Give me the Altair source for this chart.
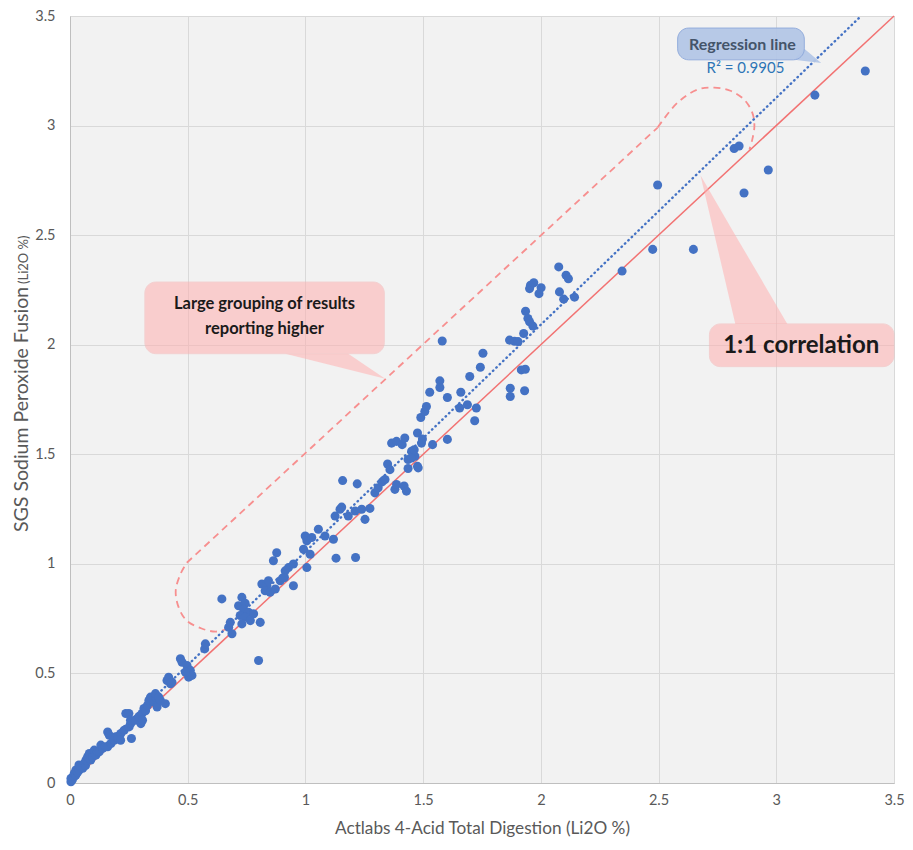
import altair as alt
import pandas as pd

FONT = "Lato"

# ---------------- data ----------------
actlabs = [
    0.004, 0.004, 0.010, 0.018, 0.018, 0.025, 0.025, 0.033, 0.039, 0.047, 0.054, 0.038, 0.061, 0.066,
    0.068, 0.075, 0.082, 0.088, 0.096, 0.103, 0.110, 0.116, 0.124, 0.131, 0.139, 0.150, 0.160, 0.160,
    0.167, 0.174, 0.188, 0.194, 0.202, 0.216, 0.215, 0.230, 0.237, 0.251, 0.258, 0.261, 0.250, 0.257,
    0.278, 0.292,
    0.301, 0.306, 0.308, 0.314, 0.321, 0.329, 0.335, 0.343, 0.342, 0.356, 0.364, 0.363, 0.370, 0.377,
    0.384, 0.405, 0.412, 0.419, 0.427, 0.433, 0.469, 0.476, 0.497, 0.504, 0.511, 0.518, 0.490, 0.572,
    0.575,
    0.645, 0.674, 0.688, 0.681, 0.716, 0.730, 0.744, 0.737, 0.758, 0.723, 0.744, 0.780, 0.766, 0.730,
    0.808, 0.801, 0.815, 0.836, 0.843, 0.829, 0.850, 0.872, 0.893, 0.911, 0.878, 0.864, 0.928, 0.949,
    0.914, 0.907, 0.949, 0.992, 0.999, 1.006, 1.020, 1.006,
    1.027, 1.055, 1.083, 1.119, 1.126, 1.147, 1.154, 1.182, 1.211, 1.239, 1.253, 1.274, 1.130, 1.213,
    1.158, 1.220, 1.295, 1.309, 1.326, 1.338, 1.349, 1.359, 1.366, 1.387, 1.380, 1.387, 1.419, 1.429,
    1.411, 1.422, 1.436, 1.451, 1.465, 1.450, 1.476, 1.436, 1.462, 1.476, 1.493, 1.479,
    1.490, 1.507, 1.514, 1.497, 1.540, 1.603, 1.528, 1.571, 1.571, 1.603, 1.581, 1.655, 1.660, 1.688,
    1.698, 1.719, 1.726, 1.743, 1.754, 1.867, 1.888, 1.903, 1.870, 1.870, 1.931, 1.917, 1.934, 1.927,
    1.935, 1.945, 1.952, 1.966, 1.952, 1.956, 1.970, 2.001, 1.992, 2.076, 2.107, 2.117, 2.079, 2.097,
    2.143,
    2.345, 2.475, 2.496, 2.648, 2.821, 2.842, 2.863, 2.966, 3.164, 3.378,
]
sgs = [
    0.006, 0.021, 0.015, 0.030, 0.044, 0.036, 0.059, 0.050, 0.059, 0.074, 0.067, 0.082, 0.090, 0.080,
    0.105, 0.120, 0.135, 0.105, 0.120, 0.150, 0.127, 0.142, 0.142, 0.173, 0.158, 0.165, 0.165, 0.233,
    0.218, 0.180, 0.195, 0.211, 0.211, 0.226, 0.195, 0.241, 0.317, 0.256, 0.271, 0.203, 0.317, 0.286,
    0.286, 0.302,
    0.271, 0.317, 0.286, 0.340, 0.330, 0.355, 0.377, 0.385, 0.392, 0.370, 0.392, 0.408, 0.347, 0.392,
    0.377, 0.362, 0.468, 0.483, 0.453, 0.460, 0.567, 0.551, 0.536, 0.483, 0.514, 0.491, 0.506, 0.612,
    0.635,
    0.840, 0.711, 0.681, 0.733, 0.809, 0.847, 0.820, 0.794, 0.779, 0.764, 0.756, 0.772, 0.741, 0.726,
    0.733, 0.559, 0.908, 0.900, 0.923, 0.877, 0.870, 0.885, 0.923, 0.938, 1.051, 1.014, 0.983, 0.999,
    0.968, 0.938, 0.900, 1.067, 1.127, 1.105, 1.044, 0.983,
    1.120, 1.158, 1.127, 1.112, 1.218, 1.249, 1.259, 1.218, 1.241, 1.249, 1.203, 1.253, 1.026, 1.029,
    1.380, 1.365, 1.324, 1.347, 1.374, 1.385, 1.456, 1.430, 1.551, 1.559, 1.340, 1.362, 1.355, 1.332,
    1.544, 1.574, 1.476, 1.514, 1.491, 1.483, 1.445, 1.435, 1.521, 1.597, 1.551, 1.438,
    1.668, 1.695, 1.718, 1.570, 1.544, 1.568, 1.783, 1.835, 1.805, 1.759, 2.017, 1.711, 1.783, 1.726,
    1.855, 1.653, 1.711, 1.897, 1.961, 2.021, 2.016, 2.014, 1.801, 1.764, 1.790, 1.885, 1.888, 2.051,
    2.153, 2.120, 2.105, 2.085, 2.256, 2.271, 2.283, 2.260, 2.233, 2.355, 2.317, 2.301, 2.241, 2.208,
    2.217,
    2.336, 2.435, 2.729, 2.435, 2.895, 2.907, 2.692, 2.797, 3.139, 3.249,
]

tick_values = [0, 0.5, 1, 1.5, 2, 2.5, 3, 3.5]

one_to_one_x = [0.0, 3.5]
one_to_one_y = [0.0, 3.5]

reg_x = [0.0, 3.36]
reg_y = [0.02, 3.5]

# dashed outline around the "higher" group (3 pieces: lower arc, straight edge, upper arc)
outline_seg = ["a"] * 8 + ["b"] * 2 + ["c"] * 10
outline_x = [0.674, 0.619, 0.559, 0.496, 0.462, 0.449, 0.470, 0.496,
             0.496, 2.496,
             2.496, 2.581, 2.665, 2.737, 2.805, 2.864, 2.898, 2.907, 2.898, 2.886]
outline_y = [0.705, 0.691, 0.705, 0.741, 0.800, 0.877, 0.955, 1.005,
             1.005, 2.991,
             2.991, 3.105, 3.164, 3.173, 3.159, 3.118, 3.059, 3.000, 2.936, 2.891]

# callout boxes
box_x = [0.318, 2.716, 2.581]
box_x2 = [1.335, 3.500, 3.119]
box_y = [1.959, 1.900, 3.300]
box_y2 = [2.286, 2.095, 3.445]
box_fill = ["#ffb0b0", "#ffb0b0", "#b4c7e7"]
box_stroke = ["#f5b5b5", "#f5b5b5", "#8faadc"]
box_opacity = [0.55, 0.55, 0.95]

# callout pointers (triangles as areas)
tail_id = ["g"] * 3 + ["c"] * 3 + ["r"] * 3
tail_x = [0.915, 1.182, 1.339, 2.678, 2.826, 3.047, 3.076, 3.119, 3.191]
tail_lo = [1.959, 1.887, 1.845, 2.773, 2.095, 2.095, 3.300, 3.295, 3.286]
tail_hi = [1.959, 1.959, 1.845, 2.773, 2.500, 2.095, 3.300, 3.350, 3.286]
tail_fill = ["#ffb0b0"] * 6 + ["#b4c7e7"] * 3
tail_opacity = [0.55] * 6 + [0.95] * 3

# callout texts
label_text = ["Large grouping of results", "reporting higher", "1:1 correlation", "Regression line"]
label_x = [0.826, 0.826, 3.106, 2.856]
label_y = [2.186, 2.073, 1.995, 3.368]
label_size = [16.5, 16.5, 24, 16]
label_color = ["#1a1a1a", "#1a1a1a", "#1a1a1a", "#44546a"]

r2_text = ["R² = 0.9905"]
r2_x = [2.869]
r2_y = [3.264]

# ---------------- chart ----------------
xs = alt.Scale(domain=[0, 3.5], nice=False, zero=False)
ys = alt.Scale(domain=[0, 3.5], nice=False, zero=False)

x_axis = alt.Axis(values=tick_values, format="~g", title="Actlabs 4-Acid Total Digestion (Li2O %)",
                  grid=True, gridColor="#d9d9d9", gridWidth=1, ticks=False,
                  domainColor="#bfbfbf", domainWidth=1, labelFlush=False,
                  labelFont=FONT, labelFontSize=14.5, labelColor="#595959", labelPadding=10,
                  titleFont=FONT, titleFontSize=17.2, titleFontWeight="normal", titleColor="#595959",
                  titlePadding=13)
y_axis = alt.Axis(values=tick_values, format="~g", title=None,
                  grid=True, gridColor="#d9d9d9", gridWidth=1, ticks=False,
                  domainColor="#bfbfbf", domainWidth=1, labelFlush=False,
                  labelFont=FONT, labelFontSize=14.5, labelColor="#595959", labelPadding=15)


def X(field):
    return alt.X(field, type="quantitative", scale=xs, axis=x_axis)


def Y(field):
    return alt.Y(field, type="quantitative", scale=ys, axis=y_axis)


pts = pd.DataFrame({"x": actlabs, "y": sgs})
diag = pd.DataFrame({"x": one_to_one_x, "y": one_to_one_y})
reg = pd.DataFrame({"x": reg_x, "y": reg_y})
outline = pd.DataFrame({"seg": outline_seg, "x": outline_x, "y": outline_y,
                        "i": list(range(len(outline_x)))})
boxes = pd.DataFrame({"x": box_x, "x2": box_x2, "y": box_y, "y2": box_y2,
                      "fill": box_fill, "stroke": box_stroke, "op": box_opacity})
tails = pd.DataFrame({"id": tail_id, "x": tail_x, "lo": tail_lo, "hi": tail_hi,
                      "fill": tail_fill, "op": tail_opacity})
labels = pd.DataFrame({"t": label_text, "x": label_x, "y": label_y,
                       "s": label_size, "c": label_color})
r2 = pd.DataFrame({"t": r2_text, "x": r2_x, "y": r2_y})

outline_layer = alt.Chart(outline).mark_line(
    color="#f78f8f", strokeWidth=1.8, strokeDash=[7, 5], interpolate="catmull-rom"
).encode(x=X("x"), y=Y("y"), detail="seg:N", order="i:Q")

diag_layer = alt.Chart(diag).mark_line(color="#f27272", strokeWidth=1.5).encode(x=X("x"), y=Y("y"))

reg_layer = alt.Chart(reg).mark_line(
    color="#4472c4", strokeWidth=2.4, strokeDash=[0.5, 4.2], strokeCap="round"
).encode(x=X("x"), y=Y("y"))

pts_layer = alt.Chart(pts).mark_circle(size=82, color="#4472c4", opacity=1).encode(x=X("x"), y=Y("y"))

tail_layer = alt.Chart(tails).mark_area(interpolate="linear").encode(
    x=X("x"), y=Y("lo"), y2="hi",
    detail="id:N",
    fill=alt.Fill("fill:N", scale=None),
    opacity=alt.Opacity("op:Q", scale=None),
)

box_layer = alt.Chart(boxes).mark_rect(cornerRadius=11, strokeWidth=1).encode(
    x=X("x"), x2="x2", y=Y("y"), y2="y2",
    fill=alt.Fill("fill:N", scale=None),
    stroke=alt.Stroke("stroke:N", scale=None),
    opacity=alt.Opacity("op:Q", scale=None),
)

label_layer = alt.Chart(labels).mark_text(font=FONT, fontWeight="bold", baseline="middle", align="center").encode(
    x=X("x"), y=Y("y"), text="t:N",
    size=alt.Size("s:Q", scale=None),
    color=alt.Color("c:N", scale=None),
)

r2_layer = alt.Chart(r2).mark_text(font=FONT, fontSize=15, color="#2e75b6", baseline="middle",
                                   align="center").encode(x=X("x"), y=Y("y"), text="t:N")

ytitle_df = pd.DataFrame({"t": ["SGS Sodium Peroxide Fusion"]})
ysub_df = pd.DataFrame({"t": ["(Li2O %)"]})
ytitle_layer = alt.Chart(ytitle_df).mark_text(
    font=FONT, fontSize=19.5, color="#595959", angle=270, align="left", baseline="alphabetic"
).encode(x=alt.value(-42), y=alt.value(516), text="t:N")
ysub_layer = alt.Chart(ysub_df).mark_text(
    font=FONT, fontSize=13, color="#595959", angle=270, align="left", baseline="alphabetic"
).encode(x=alt.value(-42), y=alt.value(268), text="t:N")

chart = alt.layer(
    outline_layer, diag_layer, reg_layer, pts_layer,
    tail_layer, box_layer, label_layer, r2_layer, ytitle_layer, ysub_layer
).properties(
    width=824, height=767,
    autosize=alt.AutoSizeParams(type="none"),
    padding={"left": 62, "top": 8, "right": 11, "bottom": 54},
    background="white",
).configure_view(fill="#f2f2f2", stroke="#d9d9d9")

chart.save("out.html", embed_options={"renderer": "svg", "actions": False})
